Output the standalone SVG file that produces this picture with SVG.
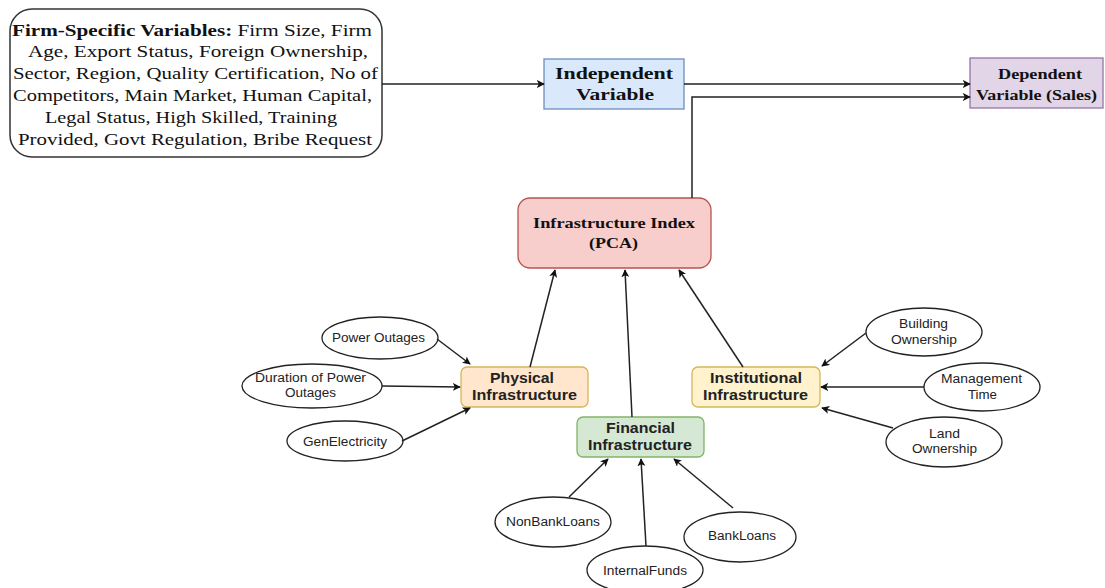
<svg xmlns="http://www.w3.org/2000/svg" width="1105" height="588" viewBox="0 0 1105 588">
<defs>
<marker id="ah" viewBox="0 0 10 10" refX="9" refY="5" markerWidth="8" markerHeight="8" orient="auto" markerUnits="userSpaceOnUse">
<path d="M0,0 L10,5 L0,10 L2.5,5 Z" fill="#111"/>
</marker>
</defs>
<style>
.serif{font-family:"Liberation Serif","Times New Roman",serif;fill:#111}
.sans{font-family:"Liberation Sans",Arial,sans-serif;fill:#222}
.b{font-weight:bold}
.ell{fill:#fff;stroke:#222;stroke-width:1.3}
.conn line,.conn path{stroke:#222;stroke-width:1.5;fill:none;marker-end:url(#ah)}
</style>
<rect width="1105" height="588" fill="#fff"/>

<g id="firm">
<rect x="10" y="9" width="372" height="148" rx="22" fill="#fff" stroke="#333" stroke-width="1.5"/>
<g class="serif" font-size="17.5">
<text x="12" y="36" textLength="360" lengthAdjust="spacingAndGlyphs"><tspan class="b">Firm-Specific Variables:</tspan> Firm Size, Firm</text>
<text x="28" y="57" textLength="340" lengthAdjust="spacingAndGlyphs">Age, Export Status, Foreign Ownership,</text>
<text x="13" y="78.5" textLength="365" lengthAdjust="spacingAndGlyphs">Sector, Region, Quality Certification, No of</text>
<text x="13" y="100.5" textLength="359" lengthAdjust="spacingAndGlyphs">Competitors, Main Market, Human Capital,</text>
<text x="45" y="122.5" textLength="292" lengthAdjust="spacingAndGlyphs">Legal Status, High Skilled, Training</text>
<text x="18" y="144.5" textLength="354" lengthAdjust="spacingAndGlyphs">Provided, Govt Regulation, Bribe Request</text>
</g>
</g>

<g id="independent">
<rect x="544" y="59" width="140" height="50" fill="#dae8fc" stroke="#6c8ebf" stroke-width="1.3"/>
<text class="serif b" font-size="17" x="555" y="79" textLength="118" lengthAdjust="spacingAndGlyphs">Independent</text>
<text class="serif b" font-size="17" x="576" y="100" textLength="78" lengthAdjust="spacingAndGlyphs">Variable</text>
</g>

<g id="dependent">
<rect x="970" y="58" width="133" height="50" fill="#e1d5e7" stroke="#9673a6" stroke-width="1.3"/>
<text class="serif b" font-size="15" x="998" y="79" textLength="84" lengthAdjust="spacingAndGlyphs">Dependent</text>
<text class="serif b" font-size="15" x="976" y="100" textLength="121" lengthAdjust="spacingAndGlyphs">Variable (Sales)</text>
</g>

<g id="infraindex">
<rect x="518" y="198" width="193" height="70" rx="12" fill="#f8cecc" stroke="#b85450" stroke-width="1.3"/>
<text class="serif b" font-size="15" x="533" y="228" textLength="162" lengthAdjust="spacingAndGlyphs">Infrastructure Index</text>
<text class="serif b" font-size="15" x="589" y="248" textLength="49" lengthAdjust="spacingAndGlyphs">(PCA)</text>
</g>

<g id="physical">
<rect x="461" y="367" width="127" height="40" rx="6" fill="#ffe6cc" stroke="#d6b656" stroke-width="1.3"/>
<text class="sans b" font-size="14" x="490" y="383" textLength="64" lengthAdjust="spacingAndGlyphs">Physical</text>
<text class="sans b" font-size="14" x="472" y="400" textLength="105" lengthAdjust="spacingAndGlyphs">Infrastructure</text>
</g>

<g id="institutional">
<rect x="692" y="367" width="128" height="40" rx="6" fill="#fff2cc" stroke="#d6b656" stroke-width="1.3"/>
<text class="sans b" font-size="14" x="710" y="383" textLength="92" lengthAdjust="spacingAndGlyphs">Institutional</text>
<text class="sans b" font-size="14" x="703" y="400" textLength="105" lengthAdjust="spacingAndGlyphs">Infrastructure</text>
</g>

<g id="financial">
<rect x="577" y="417" width="127" height="40" rx="6" fill="#d5e8d4" stroke="#82b366" stroke-width="1.3"/>
<text class="sans b" font-size="14" x="606" y="433" textLength="69" lengthAdjust="spacingAndGlyphs">Financial</text>
<text class="sans b" font-size="14" x="588" y="450" textLength="104" lengthAdjust="spacingAndGlyphs">Infrastructure</text>
</g>

<g id="poweroutages">
<ellipse class="ell" cx="380" cy="338" rx="58" ry="21"/>
<text class="sans" font-size="12.5" x="332" y="342" textLength="93" lengthAdjust="spacingAndGlyphs">Power Outages</text>
</g>
<g id="duration">
<ellipse class="ell" cx="312" cy="386" rx="70" ry="22"/>
<text class="sans" font-size="12.5" x="255" y="382" textLength="111" lengthAdjust="spacingAndGlyphs">Duration of Power</text>
<text class="sans" font-size="12.5" x="285" y="397" textLength="51" lengthAdjust="spacingAndGlyphs">Outages</text>
</g>
<g id="genelectricity">
<ellipse class="ell" cx="345" cy="441" rx="58" ry="20"/>
<text class="sans" font-size="12.5" x="303" y="446" textLength="84" lengthAdjust="spacingAndGlyphs">GenElectricity</text>
</g>

<g id="building">
<ellipse class="ell" cx="924" cy="332" rx="58" ry="24"/>
<text class="sans" font-size="12.5" x="899" y="328" textLength="49" lengthAdjust="spacingAndGlyphs">Building</text>
<text class="sans" font-size="12.5" x="891" y="344" textLength="66" lengthAdjust="spacingAndGlyphs">Ownership</text>
</g>
<g id="management">
<ellipse class="ell" cx="982" cy="387" rx="58" ry="24"/>
<text class="sans" font-size="12.5" x="941" y="383" textLength="81" lengthAdjust="spacingAndGlyphs">Management</text>
<text class="sans" font-size="12.5" x="968" y="399" textLength="29" lengthAdjust="spacingAndGlyphs">Time</text>
</g>
<g id="land">
<ellipse class="ell" cx="944" cy="442" rx="58" ry="25"/>
<text class="sans" font-size="12.5" x="929" y="438" textLength="31" lengthAdjust="spacingAndGlyphs">Land</text>
<text class="sans" font-size="12.5" x="912" y="453" textLength="65" lengthAdjust="spacingAndGlyphs">Ownership</text>
</g>

<g id="nonbank">
<ellipse class="ell" cx="553" cy="522" rx="58" ry="25"/>
<text class="sans" font-size="12.5" x="506" y="526" textLength="94" lengthAdjust="spacingAndGlyphs">NonBankLoans</text>
</g>
<g id="internal">
<ellipse class="ell" cx="645" cy="570" rx="58" ry="24"/>
<text class="sans" font-size="12.5" x="603" y="575" textLength="84" lengthAdjust="spacingAndGlyphs">InternalFunds</text>
</g>
<g id="bank">
<ellipse class="ell" cx="740" cy="537" rx="56" ry="25"/>
<text class="sans" font-size="12.5" x="708" y="540" textLength="68" lengthAdjust="spacingAndGlyphs">BankLoans</text>
</g>

<g id="connectors" class="conn">
<line x1="382" y1="84" x2="544" y2="84"/>
<line x1="684" y1="84" x2="970" y2="84"/>
<path d="M692,198 L692,97 L970,97"/>
<line x1="530" y1="367" x2="555" y2="270"/>
<line x1="632" y1="417" x2="625" y2="270"/>
<line x1="743" y1="367" x2="679" y2="270"/>
<line x1="437" y1="339" x2="470" y2="364"/>
<line x1="382" y1="386" x2="460" y2="387"/>
<line x1="402" y1="441" x2="470" y2="408"/>
<line x1="866" y1="333" x2="822" y2="366"/>
<line x1="924" y1="387" x2="821" y2="387"/>
<line x1="893" y1="428" x2="822" y2="408"/>
<line x1="569" y1="497" x2="608" y2="459"/>
<line x1="646" y1="546" x2="641" y2="459"/>
<line x1="733" y1="508" x2="674" y2="459"/>
</g>
</svg>
